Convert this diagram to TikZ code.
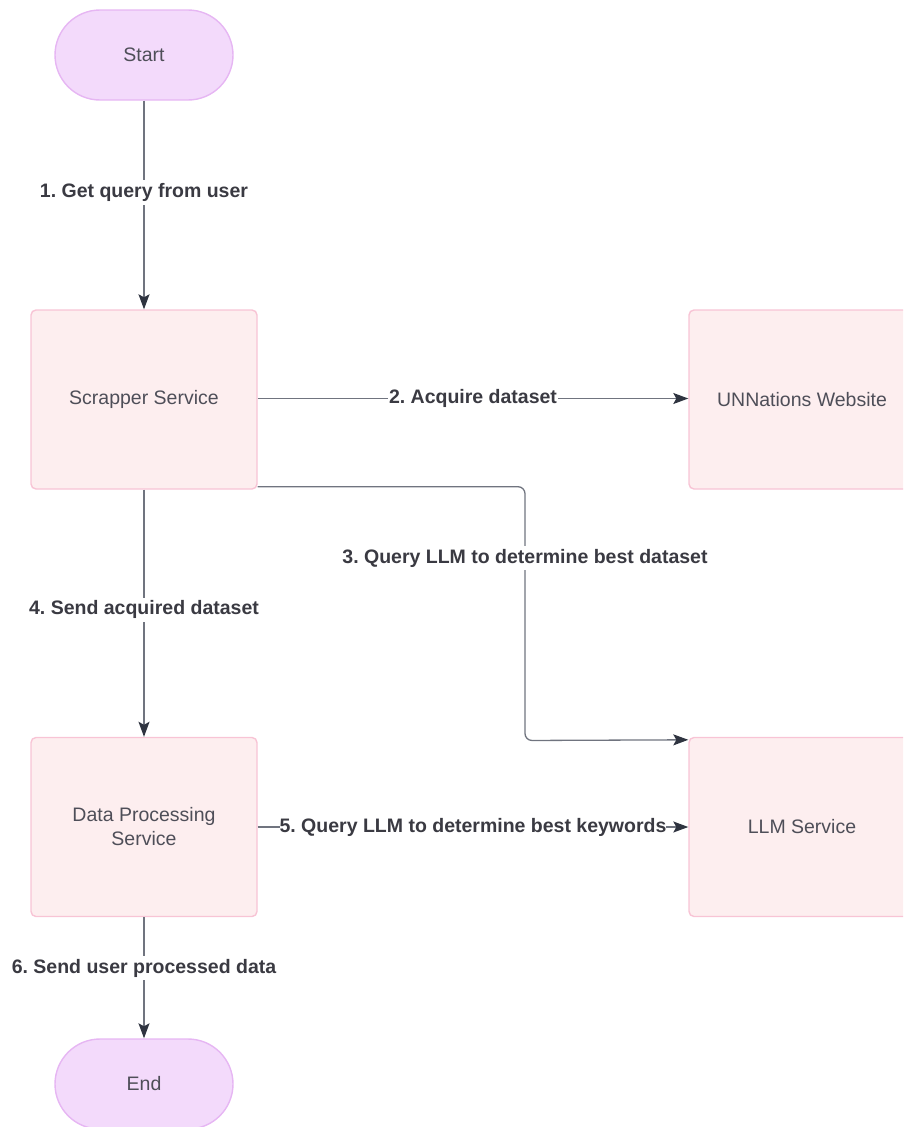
\documentclass[tikz,border=0pt]{standalone}
\usepackage{fontspec}
\setmainfont{Liberation Sans}
\usetikzlibrary{arrows.meta,positioning}
\frenchspacing
\definecolor{termfill}{HTML}{F3DAFB}
\definecolor{termdraw}{HTML}{E6B6F3}
\definecolor{boxfill}{HTML}{FDEEEF}
\definecolor{boxdraw}{HTML}{F8C4D5}
\definecolor{linec}{HTML}{70747F}
\definecolor{arrowc}{HTML}{2F3440}
\definecolor{textc}{HTML}{4E4E58}
\definecolor{labelc}{HTML}{3A3A42}
\tikzset{
  terminal/.style={draw=termdraw, fill=termfill, line width=1.4pt, rounded corners=45pt,
    minimum width=178pt, minimum height=90pt, inner sep=0pt, text=textc,
    font=\fontsize{19.5}{23}\selectfont},
  servicebox/.style={draw=boxdraw, fill=boxfill, line width=1.4pt, rounded corners=5pt,
    minimum width=226pt, minimum height=179pt, inner sep=0pt, text=textc, align=center,
    font=\fontsize{19.5}{24}\selectfont},
  conn/.style={draw=linec, line width=1.3pt,
    -{Stealth[length=15pt,width=11pt,inset=3pt,color=arrowc]}},
  lbl/.style={fill=white, inner xsep=1pt, inner ysep=3pt, text=labelc,
    font=\bfseries\fontsize{19.5}{23}\selectfont}
}
\begin{document}
\begin{tikzpicture}[x=1pt,y=-1pt]
\useasboundingbox (0,0) rectangle (903,1127);
\clip (0,0) rectangle (903,1127);
\node[terminal] (start) at (144,55) {Start};
\node[servicebox] (scr) at (144,399.5) {Scrapper Service};
\node[servicebox] (unn) at (802,399.5) {UNNations Website};
\node[servicebox] (dps) at (144,827) {Data Processing\\Service};
\node[servicebox] (llm) at (802,827) {LLM Service};
\node[terminal] (end) at (144,1084) {End};
\coordinate (c3) at (525,740.5);

\draw[conn] (start) -- node[lbl, pos=0.44] (l1) {1. Get query from user} (scr);
\draw[conn] ([yshift=1pt]scr.east) -- node[lbl, pos=0.5] (l2) {2. Acquire dataset} ([yshift=1pt]unn.west);
\draw[conn, rounded corners=7pt] ([yshift=3pt]scr.south east) -| (c3) -- ([yshift=-3pt]llm.north west);
\node[lbl] (l3) at (525,558) {3. Query LLM to determine best dataset};
\draw[conn] (scr) -- node[lbl, pos=0.486] (l4) {4. Send acquired dataset} (dps);
\draw[conn] (dps) -- node[lbl, pos=0.5, inner xsep=0pt] (l5) {5. Query LLM to determine best keywords} (llm);
\draw[conn] (dps) -- node[lbl, pos=0.42] (l6) {6. Send user processed data} (end);
\end{tikzpicture}
\end{document}
